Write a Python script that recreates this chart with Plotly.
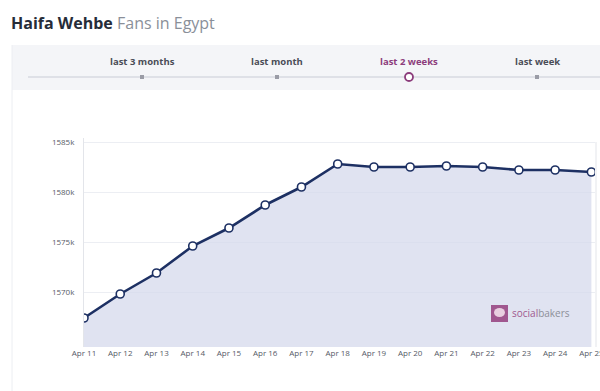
import plotly.graph_objects as go

dates = ["Apr 11", "Apr 12", "Apr 13", "Apr 14", "Apr 15", "Apr 16", "Apr 17", "Apr 18",
         "Apr 19", "Apr 20", "Apr 21", "Apr 22", "Apr 23", "Apr 24", "Apr 25"]
fans_k = [1567.4, 1569.8, 1571.9, 1574.6, 1576.4, 1578.7, 1580.5, 1582.8,
          1582.5, 1582.5, 1582.6, 1582.5, 1582.2, 1582.2, 1582.0]
y_ticks = [1570, 1575, 1580, 1585]
y_ticktext = ["1570k", "1575k", "1580k", "1585k"]
periods = ["last 3 months", "last month", "last 2 weeks", "last week"]

W, H = 600, 391
L, R, T, B = 84, 5, 138, 44
PW, PH = W - L - R, H - T - B

def px(x):
    return (x - L) / PW

def py(y):
    return 1 - (y - T) / PH

fig = go.Figure()
fig.add_trace(go.Scatter(
    x=dates, y=fans_k, mode="lines+markers",
    fill="tozeroy", fillcolor="rgba(213,218,236,0.75)",
    line=dict(color="#1d3063", width=2.6),
    marker=dict(size=8, color="white", line=dict(color="#1d3063", width=1.6)),
    hoverinfo="skip",
))

shapes = []
shapes.append(dict(type="rect", xref="paper", yref="paper", x0=px(12), x1=px(600), y0=py(90), y1=py(45),
                   fillcolor="#f4f5f8", line=dict(width=0), layer="below"))
shapes.append(dict(type="line", xref="paper", yref="paper", x0=px(28), x1=px(600), y0=py(77), y1=py(77),
                   line=dict(color="#c9ccd6", width=1)))
shapes.append(dict(type="line", xref="paper", yref="paper", x0=px(12), x1=px(12), y0=py(391), y1=py(45),
                   line=dict(color="#eceef2", width=1)))
shapes.append(dict(type="line", xref="paper", yref="paper", x0=px(596), x1=px(596), y0=py(347), y1=py(142),
                   line=dict(color="#e3e5ea", width=1)))
period_x = [142, 277, 409, 537]
for i, xp in enumerate(period_x):
    if i == 2:
        shapes.append(dict(type="circle", xref="paper", yref="paper", x0=px(xp - 4), x1=px(xp + 4),
                           y0=py(81), y1=py(73), fillcolor="white", line=dict(color="#8c3d7c", width=1.8)))
    else:
        shapes.append(dict(type="rect", xref="paper", yref="paper", x0=px(xp - 2), x1=px(xp + 2),
                           y0=py(79), y1=py(75), fillcolor="#9a9ca6", line=dict(width=0)))
shapes.append(dict(type="rect", xref="paper", yref="paper", x0=px(491), x1=px(508), y0=py(322), y1=py(305),
                   fillcolor="#a0578f", line=dict(width=0)))
shapes.append(dict(type="circle", xref="paper", yref="paper", x0=px(494), x1=px(505), y0=py(317), y1=py(308),
                   fillcolor="#e8cfe0", line=dict(width=0)))

annotations = [
    dict(xref="paper", yref="paper", x=px(9), y=py(23), xanchor="left", yanchor="middle", showarrow=False,
         text="<b>Haifa Wehbe</b> <span style='color:#8a8f99'>Fans in Egypt</span>",
         font=dict(size=16, color="#262c38", family="Open Sans")),
    dict(xref="paper", yref="paper", x=px(510), y=py(313), xanchor="left", yanchor="middle", showarrow=False,
         text="<span style='color:#a0578f'>social</span><span style='color:#8d8f99'>bakers</span>",
         font=dict(size=10, family="Open Sans")),
]
for i, (xp, lab) in enumerate(zip(period_x, periods)):
    annotations.append(dict(xref="paper", yref="paper", x=px(xp), y=py(62), xanchor="center", yanchor="middle",
                            showarrow=False, text="<b>" + lab + "</b>",
                            font=dict(size=9.5, family="Open Sans",
                                      color="#8c3d7c" if i == 2 else "#4a4d57")))

fig.update_layout(
    width=W, height=H, margin=dict(l=L, r=R, t=T, b=B, autoexpand=False),
    paper_bgcolor="white", plot_bgcolor="white", showlegend=False,
    shapes=shapes, annotations=annotations,
    xaxis=dict(range=[0, 14.1], showgrid=False, zeroline=False, showline=False, ticks="",
               automargin=False,
               tickfont=dict(size=8, color="#555a66", family="Open Sans")),
    yaxis=dict(range=[1564.5, 1585.4], tickvals=y_ticks, ticktext=y_ticktext, showgrid=True,
               gridcolor="#eceef3", gridwidth=1, zeroline=False, showline=True, linecolor="#e3e5ea",
               ticks="", ticklabelstandoff=7, automargin=False,
               tickfont=dict(size=8, color="#555a66", family="Open Sans")),
)
fig.write_html("out.html", config={"displayModeBar": False},
               post_script="document.body.style.margin='0px';document.body.style.overflow='hidden';")
